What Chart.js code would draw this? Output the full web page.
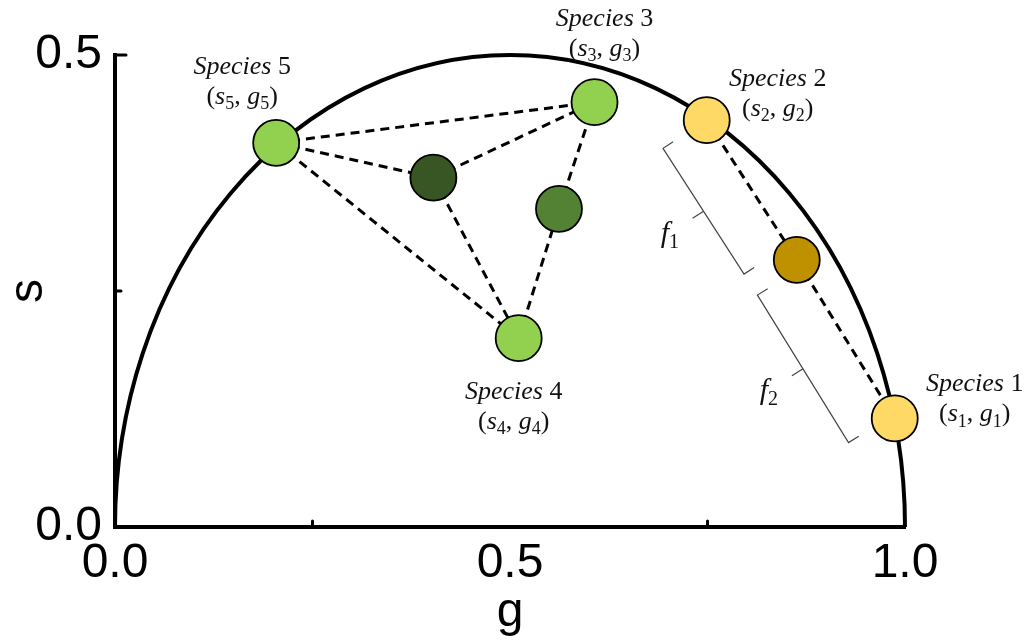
<!DOCTYPE html>
<html>
<head>
<meta charset="utf-8">
<script src="https://cdn.jsdelivr.net/npm/chart.js@4/dist/chart.umd.min.js"></script>
<style>
  html, body { margin: 0; padding: 0; background: #fff; }
  #wrap { width: 1031px; height: 642px; position: relative; }
</style>
</head>
<body>
<div id="wrap"><canvas id="myChart"></canvas></div>
<script>
// points: 5 species, then the mixtures
const pointNames = ['Species 1', 'Species 2', 'Species 3', 'Species 4', 'Species 5', 'Mix 1-2', 'Mix A', 'Mix B'];
const speciesNumbers = ['1', '2', '3', '4', '5', null, null, null];
const gValues = [0.987, 0.749, 0.607, 0.511, 0.204, 0.863, 0.403, 0.562];
const sValues = [0.115, 0.431, 0.450, 0.200, 0.407, 0.283, 0.370, 0.337];
const pointColors = ['#ffd966', '#ffd966', '#92d050', '#92d050', '#92d050', '#bf9000', '#375623', '#548235'];

// dashed links between points (indexes into the arrays above)
const dashedPairs = [[4, 2], [4, 6], [6, 2], [4, 3], [6, 3], [3, 7], [7, 2], [1, 5], [5, 0]];

// braces with f labels
const bracePairs = [[1, 5], [5, 0]];
const braceNames = ['1', '2'];

// axes
const xTickValues = [0, 0.5, 1];
const xTickLabels = ['0.0', '0.5', '1.0'];
const yTickValues = [0, 0.5];
const yTickLabels = ['0.0', '0.5'];
const xMinorTicks = [0.25, 0.75];
const yMinorTicks = [0.25, 0.5];
const arcCenter = 0.5;
const arcRadius = 0.5;

// label placement (pixels, relative to the point)
const labelDx = [80, 71, 10, -5, -34];
const labelDy = [-27, -34, -76, 61, -69];
const braceSpan = [[0.0, 0.9], [0.05, 0.98]];

function drawRich(ctx, cx, baseY, parts, size) {
    const subSize = Math.round(size * 0.68);
    const fontOf = p => (p.it ? 'italic ' : '') + (p.sub ? subSize : size) + 'px "Liberation Serif", serif';
    let total = 0;
    parts.forEach(p => {
        ctx.font = fontOf(p);
        p.w = ctx.measureText(p.t).width;
        total += p.w;
    });
    let xx = cx - total / 2;
    ctx.textAlign = 'left';
    ctx.textBaseline = 'alphabetic';
    parts.forEach(p => {
        ctx.font = fontOf(p);
        ctx.fillText(p.t, xx, baseY + (p.sub ? size * 0.2 : 0));
        xx += p.w;
    });
}

const overlay = {
    id: 'overlay',
    beforeDatasetsDraw(chart) {
        const { ctx, scales: { x, y } } = chart;
        ctx.save();
        // semicircle
        const cx = x.getPixelForValue(arcCenter);
        const cy = y.getPixelForValue(0);
        const rx = x.getPixelForValue(arcCenter + arcRadius) - cx;
        const ry = cy - y.getPixelForValue(arcRadius);
        ctx.beginPath();
        ctx.ellipse(cx, cy, rx, ry, 0, Math.PI, 2 * Math.PI);
        ctx.lineWidth = 4;
        ctx.strokeStyle = '#000';
        ctx.stroke();

        // inward minor ticks
        ctx.lineWidth = 3;
        ctx.lineCap = 'round';
        xMinorTicks.forEach(v => {
            const px = x.getPixelForValue(v);
            ctx.beginPath();
            ctx.moveTo(px, y.bottom);
            ctx.lineTo(px, y.bottom - 6);
            ctx.stroke();
        });
        yMinorTicks.forEach(v => {
            const py = y.getPixelForValue(v);
            const len = v === 0.5 ? 11 : 6;
            ctx.beginPath();
            ctx.moveTo(x.left, py);
            ctx.lineTo(x.left + len, py);
            ctx.stroke();
        });
        ctx.lineCap = 'butt';

        // braces
        ctx.strokeStyle = '#444';
        ctx.lineWidth = 1.2;
        ctx.fillStyle = '#111';
        bracePairs.forEach((pair, i) => {
            const ax = x.getPixelForValue(gValues[pair[0]]), ay = y.getPixelForValue(sValues[pair[0]]);
            const bx = x.getPixelForValue(gValues[pair[1]]), by = y.getPixelForValue(sValues[pair[1]]);
            const len = Math.hypot(bx - ax, by - ay);
            const ux = (bx - ax) / len, uy = (by - ay) / len;
            const nx = -uy, ny = ux;
            const off = 52, hook = 12, tip = 13;
            const pt = (t, d) => [ax + ux * t + nx * d, ay + uy * t + ny * d];
            const t0 = braceSpan[i][0] * len, t1 = braceSpan[i][1] * len, tm = (t0 + t1) / 2;
            ctx.beginPath();
            ctx.moveTo(...pt(t0, off - hook));
            ctx.lineTo(...pt(t0, off));
            ctx.lineTo(...pt(t1, off));
            ctx.lineTo(...pt(t1, off - hook));
            ctx.moveTo(...pt(tm, off));
            ctx.lineTo(...pt(tm, off + tip));
            ctx.stroke();
            const lp = pt(tm, 92);
            drawRich(ctx, lp[0], lp[1] + 9, [{ t: 'f', it: true }, { t: braceNames[i], sub: true }], 30);
        });
        ctx.restore();
    },
    afterDatasetsDraw(chart) {
        const { ctx, scales: { x, y } } = chart;
        ctx.save();
        ctx.fillStyle = '#111';
        speciesNumbers.forEach((n, i) => {
            if (!n) return;
            const px = x.getPixelForValue(gValues[i]) + labelDx[i];
            const py = y.getPixelForValue(sValues[i]) + labelDy[i];
            drawRich(ctx, px, py, [{ t: 'Species ', it: true }, { t: n }], 26);
            drawRich(ctx, px, py + 30, [
                { t: '(' }, { t: 's', it: true }, { t: n, sub: true },
                { t: ', ' }, { t: 'g', it: true }, { t: n, sub: true }, { t: ')' }
            ], 26);
        });
        ctx.restore();
    }
};

const points = gValues.map((g, i) => ({ x: g, y: sValues[i] }));

const linkSets = dashedPairs.map(p => ({
    type: 'scatter',
    data: [points[p[0]], points[p[1]]],
    showLine: true,
    borderColor: '#000',
    borderWidth: 3,
    borderDash: [9, 6],
    pointRadius: 0,
    pointHoverRadius: 0,
    order: 2,
    clip: false
}));

const chartCanvas = document.getElementById('myChart');
const myChart = new Chart(chartCanvas, {
    type: 'scatter',
    data: {
        datasets: [{
            label: 'points',
            data: points,
            backgroundColor: pointColors,
            borderColor: '#000',
            borderWidth: 1.8,
            pointRadius: 23,
            pointHoverRadius: 23,
            order: 0,
            clip: false
        }, ...linkSets]
    },
    options: {
        responsive: true,
        maintainAspectRatio: false,
        animation: false,
        events: [],
        layout: { padding: { top: 55, right: 126, left: 0, bottom: 0 } },
        plugins: { legend: { display: false }, tooltip: { enabled: false } },
        scales: {
            x: {
                type: 'linear',
                min: 0,
                max: 1,
                afterFit: s => { s.height = 115; },
                grid: { display: false, drawTicks: false },
                border: { display: true, color: '#000', width: 4 },
                ticks: {
                    stepSize: 0.25,
                    autoSkip: false,
                    maxRotation: 0,
                    padding: 8,
                    color: '#000',
                    font: { family: '"Liberation Sans", Arial, sans-serif', size: 48 },
                    callback: v => { const i = xTickValues.indexOf(v); return i >= 0 ? xTickLabels[i] : ''; }
                },
                title: {
                    display: true,
                    text: 'g',
                    color: '#000',
                    padding: 0,
                    font: { family: '"Liberation Sans", Arial, sans-serif', size: 48 }
                }
            },
            y: {
                type: 'linear',
                min: 0,
                max: 0.5,
                afterFit: s => { s.width = 115; },
                grid: { display: false, drawTicks: false },
                border: { display: true, color: '#000', width: 4 },
                ticks: {
                    stepSize: 0.25,
                    autoSkip: false,
                    padding: 13,
                    color: '#000',
                    font: { family: '"Liberation Sans", Arial, sans-serif', size: 48 },
                    callback: v => { const i = yTickValues.indexOf(v); return i >= 0 ? yTickLabels[i] : ''; }
                },
                title: {
                    display: true,
                    text: 's',
                    color: '#000',
                    padding: 0,
                    font: { family: '"Liberation Sans", Arial, sans-serif', size: 48 }
                }
            }
        }
    },
    plugins: [overlay]
});
</script>
</body>
</html>
